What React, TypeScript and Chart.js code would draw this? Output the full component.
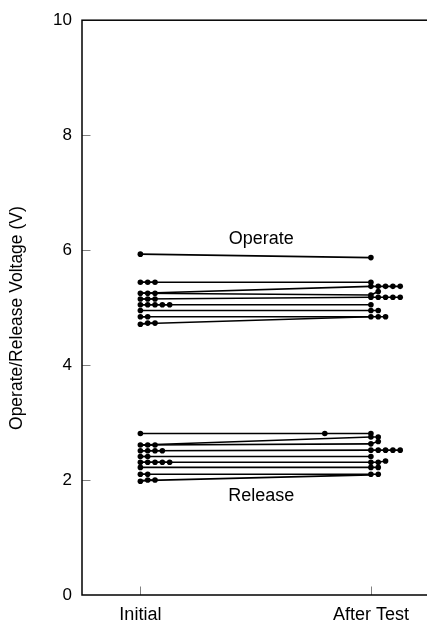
import React, { useEffect, useRef } from 'react';
import { Chart, registerables } from 'chart.js';

Chart.register(...registerables);

// ---- data ----
const categories = ['Initial', 'After Test'];
const yTickValues = [0, 2, 4, 6, 8, 10];
const yTitle = 'Operate/Release Voltage (V)';

// stacks of samples (each inner array = dots stacked side by side at a category)
const operateInitial = [
  [5.93],
  [5.44, 5.44, 5.44],
  [5.25, 5.25, 5.25],
  [5.15, 5.15, 5.15],
  [5.05, 5.05, 5.05, 5.05, 5.05],
  [4.95],
  [4.84, 4.84],
  [4.71, 4.73, 4.73],
];
const operateAfter = [
  [5.87],
  [5.44],
  [5.37, 5.37, 5.37, 5.37, 5.37],
  [5.22, 5.28],
  [5.18, 5.18, 5.18, 5.18, 5.18],
  [5.05],
  [4.95, 4.95],
  [4.84, 4.84, 4.84],
];
const operateLinks = [
  [5.93, 5.87],
  [5.44, 5.44],
  [5.25, 5.37],
  [5.25, 5.22],
  [5.15, 5.18],
  [5.05, 5.05],
  [4.95, 4.95],
  [4.84, 4.84],
  [4.72, 4.84],
];

const releaseInitial = [
  [2.81],
  [2.61, 2.61, 2.61],
  [2.51, 2.51, 2.51, 2.51],
  [2.41, 2.41],
  [2.31, 2.31, 2.31, 2.31, 2.31],
  [2.22],
  [2.10, 2.10],
  [1.98, 2.0, 2.0],
];
const releaseAfter = [
  [2.81],
  [2.75, 2.75],
  [2.63, 2.67],
  [2.52, 2.52, 2.52, 2.52, 2.52],
  [2.41],
  [2.31, 2.31, 2.33],
  [2.22, 2.22],
  [2.10, 2.10],
];
const releaseLinks = [
  [2.81, 2.81],
  [2.61, 2.75],
  [2.61, 2.63],
  [2.51, 2.52],
  [2.41, 2.41],
  [2.31, 2.31],
  [2.22, 2.22],
  [2.10, 2.10],
  [1.99, 2.09],
];
// a single extra sample plotted along the top release line
const releaseMidX = [1.8];
const releaseMidY = [2.81];

const groupLabels = ['Operate', 'Release'];
const groupLabelY = [6.2, 1.72];
const groupLabelX = 1.524;

// ---- layout constants ----
const CANVAS_W = 460;
const CANVAS_H = 628;
const AXIS_LEFT = 82;
const PX_PER_UNIT = 233;
const INITIAL_PX = 141;
const X_MIN = 1 - (INITIAL_PX - AXIS_LEFT) / PX_PER_UNIT;
const X_MAX = 1 + (CANVAS_W - INITIAL_PX) / PX_PER_UNIT;
const DOT_STEP = 7.4 / PX_PER_UNIT;
const FONT_FAMILY = '"Liberation Sans", Arial, Helvetica, sans-serif';
const TICK_FONT_SIZE = 17;
const LABEL_FONT_SIZE = 18;
const TITLE_FONT_SIZE = 17.5;

function stackDatasets(stacks: number[][], base: number) {
  return stacks.map((s) => ({
    type: 'line' as const,
    data: s.map((v, i) => ({ x: base + i * DOT_STEP, y: v })),
    borderColor: '#000',
    borderWidth: 1.6,
    pointRadius: 2.8,
    pointBackgroundColor: '#000',
    pointBorderWidth: 0,
    showLine: true,
  }));
}

function linkDatasets(links: number[][]) {
  return links.map(([a, b]) => ({
    type: 'line' as const,
    data: [
      { x: 1, y: a },
      { x: 2, y: b },
    ],
    borderColor: '#000',
    borderWidth: 1.6,
    pointRadius: 0,
    showLine: true,
  }));
}

const framePlugin = {
  id: 'frameAndLabels',
  afterDraw(chart: any) {
    const { ctx, chartArea, scales } = chart;
    const { left, top, right, bottom } = chartArea;
    ctx.save();
    // inside tick marks
    ctx.strokeStyle = '#808080';
    ctx.lineWidth = 1;
    yTickValues.forEach((v) => {
      if (v === 0 || v === 10) return;
      const y = Math.round(scales.y.getPixelForValue(v)) + 0.5;
      ctx.beginPath();
      ctx.moveTo(left, y);
      ctx.lineTo(left + 8.5, y);
      ctx.stroke();
    });
    categories.forEach((_, i) => {
      const x = Math.round(scales.x.getPixelForValue(i + 1)) + 0.5;
      ctx.beginPath();
      ctx.moveTo(x, bottom);
      ctx.lineTo(x, bottom - 8.5);
      ctx.stroke();
    });
    // frame
    ctx.strokeStyle = '#000';
    ctx.lineWidth = 1.5;
    ctx.strokeRect(left, top, right - left, bottom - top);
    // group labels
    ctx.fillStyle = '#000';
    ctx.font = `${LABEL_FONT_SIZE}px ${FONT_FAMILY}`;
    ctx.textAlign = 'center';
    ctx.textBaseline = 'middle';
    groupLabels.forEach((t, i) => {
      ctx.fillText(t, scales.x.getPixelForValue(groupLabelX), scales.y.getPixelForValue(groupLabelY[i]));
    });
    // y-axis title
    ctx.font = `${TITLE_FONT_SIZE}px ${FONT_FAMILY}`;
    ctx.translate(17.5, (top + bottom) / 2 + 10.5);
    ctx.rotate(-Math.PI / 2);
    ctx.fillText(yTitle, 0, 0);
    ctx.restore();
  },
};

export default function App() {
  const ref = useRef<HTMLCanvasElement | null>(null);
  useEffect(() => {
    if (!ref.current) return;
    const datasets: any[] = [
      ...linkDatasets(operateLinks),
      ...linkDatasets(releaseLinks),
      ...stackDatasets(operateInitial, 1),
      ...stackDatasets(operateAfter, 2),
      ...stackDatasets(releaseInitial, 1),
      ...stackDatasets(releaseAfter, 2),
      {
        type: 'scatter',
        data: releaseMidX.map((x, i) => ({ x, y: releaseMidY[i] })),
        pointRadius: 2.8,
        pointBackgroundColor: '#000',
        pointBorderWidth: 0,
        showLine: false,
      },
    ];
    const chart = new Chart(ref.current, {
      type: 'scatter',
      data: { datasets },
      options: {
        animation: false,
        responsive: false,
        events: [],
        layout: { padding: { top: 14, left: 0, right: 0, bottom: 0 } },
        plugins: { legend: { display: false }, tooltip: { enabled: false } },
        scales: {
          x: {
            type: 'linear',
            min: X_MIN,
            max: X_MAX,
            border: { display: false },
            grid: { display: false, drawTicks: false },
            afterBuildTicks: (s: any) => {
              s.ticks = categories.map((_, i) => ({ value: i + 1 }));
            },
            afterFit: (s: any) => {
              s.height = 33;
            },
            ticks: {
              autoSkip: false,
              maxRotation: 0,
              padding: 9,
              color: '#000',
              font: { family: FONT_FAMILY, size: LABEL_FONT_SIZE },
              callback: (v: any) => categories[Math.round(Number(v)) - 1] ?? '',
            },
          },
          y: {
            type: 'linear',
            min: 0,
            max: 10,
            border: { display: false },
            grid: { display: false, drawTicks: false },
            afterBuildTicks: (s: any) => {
              s.ticks = yTickValues.map((v) => ({ value: v }));
            },
            afterFit: (s: any) => {
              s.width = AXIS_LEFT;
            },
            ticks: { padding: 10, color: '#000', font: { family: FONT_FAMILY, size: TICK_FONT_SIZE } },
          },
        },
      },
      plugins: [framePlugin],
    } as any);
    return () => chart.destroy();
  }, []);
  return (
    <div style={{ position: 'fixed', left: 0, top: 0, width: 427, height: 628, overflow: 'hidden', background: '#fff' }}>
      <canvas ref={ref} width={CANVAS_W} height={CANVAS_H} style={{ width: CANVAS_W, height: CANVAS_H, display: 'block' }} />
    </div>
  );
}
